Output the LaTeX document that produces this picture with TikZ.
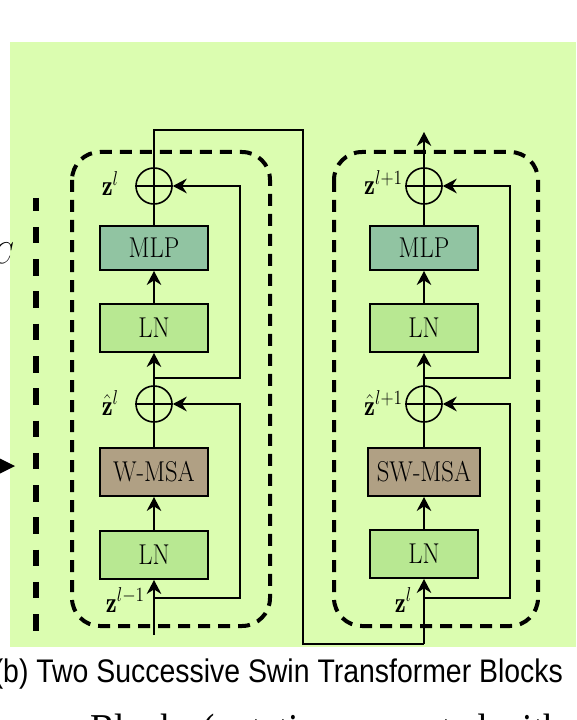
\RequirePackage{fix-cm}
\documentclass[tikz,border=0pt]{standalone}
\usepackage{graphicx}
\usepackage{fontspec}
\usetikzlibrary{arrows.meta}
\newfontfamily\capfont{Liberation Sans}
\newfontfamily\serfont{Liberation Serif}
\definecolor{bggreen}{RGB}{219,253,176}
\definecolor{mlpcol}{RGB}{145,196,162}
\definecolor{lncol}{RGB}{184,232,146}
\definecolor{msacol}{RGB}{176,160,132}
\newcommand\sq[1]{\scalebox{0.86}[1]{#1}}
\begin{document}
\begin{tikzpicture}[x=0.75pt,y=-0.75pt,
  txt/.style={font=\fontsize{21.5}{24}\selectfont},
  blk/.style={draw=black, line width=1.5pt, inner sep=0pt, minimum height=36pt, minimum width=81pt, txt},
  lnbox/.style={blk, fill=lncol},
  mlpbox/.style={blk, fill=mlpcol, minimum height=33pt},
  msabox/.style={blk, fill=msacol},
  addc/.style={draw=black, circle, line width=1.2pt, minimum size=27pt, inner sep=0pt},
  conn/.style={line width=1.2pt},
  arr/.style={conn, -{Stealth[length=10.5pt, width=11pt, inset=3.5pt]}},
  frame/.style={line width=3pt, dash pattern=on 9pt off 6pt, rounded corners=21pt},
  lbl/.style={inner sep=0pt, anchor=base east, txt}
]
\useasboundingbox (0,0) rectangle (576,720);
\clip (0,0) rectangle (576,720);
\fill[bggreen] (10,42) rectangle (576,647);

% partial content at the left edge
\node[anchor=base east, inner sep=0pt, font=\fontsize{22.5}{26}\selectfont] (cc) at (14,263) {\sq{$C$}};
\fill (-3,457) -- (15,466) -- (-3,475) -- cycle;
\draw[line width=4pt, dash pattern=on 12.4pt off 11.8pt, dash phase=2.5pt] (36,198) -- (36,631);

% dashed frames
\draw[frame] (72,152) rectangle (270,626);
\draw[frame] (334,152) rectangle (538,626);

% ---------- left block ----------
\node[lnbox] (ln1) at (154,555) {\sq{LN}};
\node[msabox] (msa1) at (154,472) {\sq{W-MSA}};
\node[addc] (c1) at (154,404) {};
\node[lnbox] (ln2) at (154,328) {\sq{LN}};
\node[mlpbox] (mlp1) at (154,248) {\sq{MLP}};
\node[addc] (c2) at (154,186) {};

\coordinate (in1) at (154,635);
\coordinate (r1) at (154,598);
\coordinate (r1c) at (240,598);
\coordinate (r2) at (154,378);
\coordinate (r2c) at (240,378);

\draw[arr] (in1) -- (ln1.south);
\draw[arr] (ln1.north) -- (msa1.south);
\draw[conn] (msa1.north) -- (c1.north);
\draw[conn] (c1.west) -- (c1.east);
\draw[arr] (c1.north) -- (ln2.south);
\draw[arr] (ln2.north) -- (mlp1.south);
\draw[conn] (mlp1.north) -- (c2.north);
\draw[conn] (c2.west) -- (c2.east);
\draw[arr] (r1) -- (r1c) |- (c1.east);
\draw[arr] (r2) -- (r2c) |- (c2.east);

\node[lbl] (lz1) at (145,612) {\sq{$\mathbf{z}^{l-1}$}};
\node[lbl] (lzh1) at (119,415) {\sq{$\hat{\mathbf{z}}^{l}$}};
\node[lbl] (lz2) at (119,196) {\sq{$\mathbf{z}^{l}$}};

% ---------- link between blocks ----------
\coordinate (k1) at (154,130);
\coordinate (k2) at (303,130);
\coordinate (k3) at (303,644);
\coordinate (k4) at (424,644);

% ---------- right block ----------
\node[lnbox] (ln3) at (424,554) {\sq{LN}};
\node[msabox, minimum width=84pt] (msa2) at (424,472) {\sq{SW-MSA}};
\node[addc] (c3) at (424,404) {};
\node[lnbox] (ln4) at (424,328) {\sq{LN}};
\node[mlpbox] (mlp2) at (424,248) {\sq{MLP}};
\node[addc] (c4) at (424,186) {};

\coordinate (r3) at (424,598);
\coordinate (r3c) at (510,598);
\coordinate (r4) at (424,378);
\coordinate (r4c) at (510,378);
\coordinate (out) at (424,132);

\draw[conn] (c2.north) -- (k1) -- (k2) -- (k3) -- (k4);
\draw[arr] (k4) -- (ln3.south);
\draw[arr] (ln3.north) -- (msa2.south);
\draw[conn] (msa2.north) -- (c3.north);
\draw[conn] (c3.west) -- (c3.east);
\draw[arr] (c3.north) -- (ln4.south);
\draw[arr] (ln4.north) -- (mlp2.south);
\draw[conn] (mlp2.north) -- (c4.north);
\draw[conn] (c4.west) -- (c4.east);
\draw[arr] (c4.north) -- (out);
\draw[arr] (r3) -- (r3c) |- (c3.east);
\draw[arr] (r4) -- (r4c) |- (c4.east);

\node[lbl] (lz3) at (412,612) {\sq{$\mathbf{z}^{l}$}};
\node[lbl] (lzh2) at (403,415) {\sq{$\hat{\mathbf{z}}^{l+1}$}};
\node[lbl] (lz4) at (403,195) {\sq{$\mathbf{z}^{l+1}$}};

% ---------- captions ----------
\node[anchor=base west, inner sep=0pt, font=\capfont\fontsize{24.5}{28}\selectfont] (cap) at (-6.5,682) {\scalebox{0.87}[1]{(b) Two Successive Swin Transformer Blocks}};
\node[anchor=base west, inner sep=0pt, font=\serfont\fontsize{31.9}{36}\selectfont] (low) at (90,743) {\scalebox{0.87}[1]{Blocks (notation presented with}};
\end{tikzpicture}
\end{document}
